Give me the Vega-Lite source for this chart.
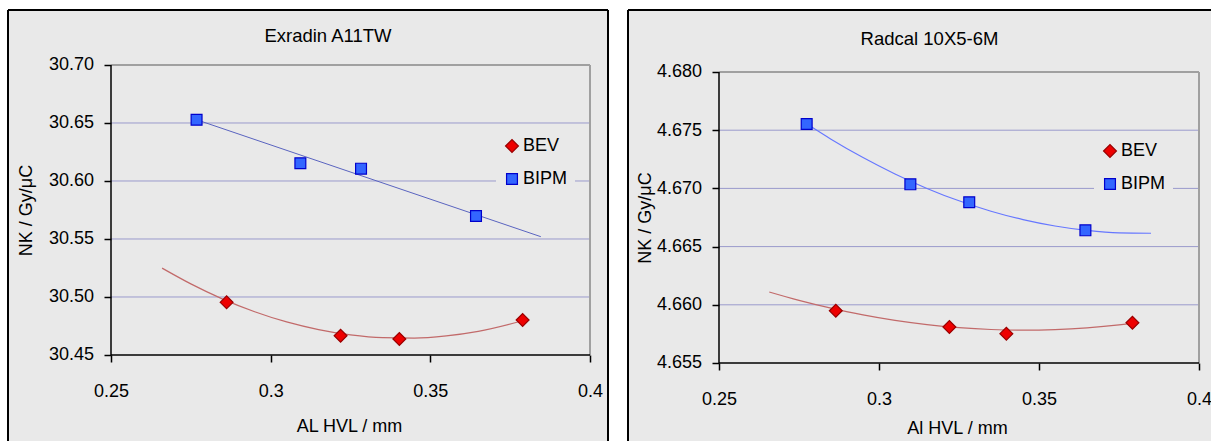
{
  "$schema": "https://vega.github.io/schema/vega-lite/v6.json",
  "autosize": {"type": "pad"},
  "padding": {"left": 7, "top": 9, "right": 0, "bottom": 0},
  "background": "#ffffff",
  "spacing": 20,
  "bounds": "flush",
  "resolve": {
    "scale": {"color": "independent", "shape": "independent", "stroke": "independent", "size": "independent", "x": "independent", "y": "independent"},
    "legend": {"color": "independent", "shape": "independent", "stroke": "independent"}
  },
  "config": {
    "view": {"fill": "#e9e9e9", "stroke": null},
    "font": "Liberation Sans",
    "axis": {
      "labelFont": "Liberation Sans", "labelFontSize": 18, "labelColor": "#000000",
      "titleFont": "Liberation Sans", "titleFontSize": 18, "titleFontWeight": "normal", "titleColor": "#000000",
      "tickColor": "#000000", "tickWidth": 1.5, "tickSize": 7,
      "domain": false, "grid": false, "labelFlush": false, "labelOverlap": false, "labelBound": false
    },
    "legend": {
      "orient": "none", "title": null, "fillColor": "#e9e9e9", "padding": 7,
      "labelFontSize": 18, "labelFont": "Liberation Sans", "labelColor": "#000000",
      "symbolSize": 130, "rowPadding": 15, "labelOffset": 2, "symbolStrokeWidth": 1.2
    }
  },
  "datasets": {
    "left_points": [
      {"series": "BIPM", "hvl": 0.2768, "nk": 30.6528},
      {"series": "BIPM", "hvl": 0.3093, "nk": 30.6153},
      {"series": "BIPM", "hvl": 0.3283, "nk": 30.6106},
      {"series": "BIPM", "hvl": 0.3643, "nk": 30.5698},
      {"series": "BEV", "hvl": 0.2862, "nk": 30.4954},
      {"series": "BEV", "hvl": 0.3219, "nk": 30.4666},
      {"series": "BEV", "hvl": 0.3403, "nk": 30.4638},
      {"series": "BEV", "hvl": 0.3789, "nk": 30.4802}
    ],
    "left_fit": [
      {"series": "BIPM", "hvl": 0.2768, "nk": 30.6528},
      {"series": "BIPM", "hvl": 0.3846, "nk": 30.5520},
      {"series": "BEV", "hvl": 0.266, "nk": 30.5249},
      {"series": "BEV", "hvl": 0.275, "nk": 30.5113},
      {"series": "BEV", "hvl": 0.285, "nk": 30.4982},
      {"series": "BEV", "hvl": 0.295, "nk": 30.4873},
      {"series": "BEV", "hvl": 0.305, "nk": 30.4785},
      {"series": "BEV", "hvl": 0.315, "nk": 30.4719},
      {"series": "BEV", "hvl": 0.325, "nk": 30.4673},
      {"series": "BEV", "hvl": 0.335, "nk": 30.4649},
      {"series": "BEV", "hvl": 0.345, "nk": 30.4646},
      {"series": "BEV", "hvl": 0.355, "nk": 30.4665},
      {"series": "BEV", "hvl": 0.365, "nk": 30.4704},
      {"series": "BEV", "hvl": 0.3789, "nk": 30.4795}
    ],
    "left_grid": [
      {"hvl": 0.25, "hvl2": 0.4, "nk": 30.5},
      {"hvl": 0.25, "hvl2": 0.4, "nk": 30.55},
      {"hvl": 0.25, "hvl2": 0.4, "nk": 30.6},
      {"hvl": 0.25, "hvl2": 0.4, "nk": 30.65}
    ],
    "left_axisline": [
      {"hvl": 0.25, "hvl2": 0.25, "nk": 30.45, "nk2": 30.7},
      {"hvl": 0.25, "hvl2": 0.4, "nk": 30.45, "nk2": 30.45}
    ],
    "left_box": [
      {"hvl": 0.25, "hvl2": 0.4, "nk": 30.7, "nk2": 30.7},
      {"hvl": 0.4, "hvl2": 0.4, "nk": 30.45, "nk2": 30.7}
    ],
    "left_border": [
      {"hvl": 0.217745, "hvl2": 0.217745, "nk": 30.375862, "nk2": 30.74741},
      {"hvl": 0.217745, "hvl2": 0.405637, "nk": 30.74741, "nk2": 30.74741},
      {"hvl": 0.405637, "hvl2": 0.405637, "nk": 30.375862, "nk2": 30.74741}
    ],
    "right_points": [
      {"series": "BIPM", "hvl": 0.2774, "nk": 4.67553},
      {"series": "BIPM", "hvl": 0.3098, "nk": 4.67035},
      {"series": "BIPM", "hvl": 0.3282, "nk": 4.66881},
      {"series": "BIPM", "hvl": 0.3645, "nk": 4.6664},
      {"series": "BEV", "hvl": 0.2865, "nk": 4.65949},
      {"series": "BEV", "hvl": 0.322, "nk": 4.65809},
      {"series": "BEV", "hvl": 0.3398, "nk": 4.65752},
      {"series": "BEV", "hvl": 0.3792, "nk": 4.65846}
    ],
    "right_fit": [
      {"series": "BIPM", "hvl": 0.2774, "nk": 4.67555},
      {"series": "BIPM", "hvl": 0.285, "nk": 4.67423},
      {"series": "BIPM", "hvl": 0.295, "nk": 4.67265},
      {"series": "BIPM", "hvl": 0.305, "nk": 4.67124},
      {"series": "BIPM", "hvl": 0.315, "nk": 4.67},
      {"series": "BIPM", "hvl": 0.325, "nk": 4.66893},
      {"series": "BIPM", "hvl": 0.335, "nk": 4.66804},
      {"series": "BIPM", "hvl": 0.345, "nk": 4.66732},
      {"series": "BIPM", "hvl": 0.355, "nk": 4.66677},
      {"series": "BIPM", "hvl": 0.365, "nk": 4.66639},
      {"series": "BIPM", "hvl": 0.375, "nk": 4.66618},
      {"series": "BIPM", "hvl": 0.385, "nk": 4.66615},
      {"series": "BEV", "hvl": 0.2657, "nk": 4.6611},
      {"series": "BEV", "hvl": 0.275, "nk": 4.66038},
      {"series": "BEV", "hvl": 0.285, "nk": 4.65971},
      {"series": "BEV", "hvl": 0.295, "nk": 4.65913},
      {"series": "BEV", "hvl": 0.305, "nk": 4.65866},
      {"series": "BEV", "hvl": 0.315, "nk": 4.6583},
      {"series": "BEV", "hvl": 0.325, "nk": 4.65804},
      {"series": "BEV", "hvl": 0.335, "nk": 4.65788},
      {"series": "BEV", "hvl": 0.345, "nk": 4.65782},
      {"series": "BEV", "hvl": 0.355, "nk": 4.65787},
      {"series": "BEV", "hvl": 0.365, "nk": 4.65802},
      {"series": "BEV", "hvl": 0.375, "nk": 4.65827},
      {"series": "BEV", "hvl": 0.3792, "nk": 4.65841}
    ],
    "right_grid": [
      {"hvl": 0.25, "hvl2": 0.4, "nk": 4.66},
      {"hvl": 0.25, "hvl2": 0.4, "nk": 4.665},
      {"hvl": 0.25, "hvl2": 0.4, "nk": 4.67},
      {"hvl": 0.25, "hvl2": 0.4, "nk": 4.675}
    ],
    "right_axisline": [
      {"hvl": 0.25, "hvl2": 0.25, "nk": 4.655, "nk2": 4.68},
      {"hvl": 0.25, "hvl2": 0.4, "nk": 4.655, "nk2": 4.655}
    ],
    "right_box": [
      {"hvl": 0.25, "hvl2": 0.4, "nk": 4.68, "nk2": 4.68},
      {"hvl": 0.4, "hvl2": 0.4, "nk": 4.655, "nk2": 4.68}
    ],
    "right_border": [
      {"hvl": 0.221563, "hvl2": 0.221563, "nk": 4.648299, "nk2": 4.685326},
      {"hvl": 0.221563, "hvl2": 0.40375, "nk": 4.685326, "nk2": 4.685326}
    ]
  },
  "hconcat": [
    {
      "width": 600,
      "height": 431,
      "title": {"text": "Exradin A11TW", "frame": "group", "anchor": "middle", "dx": 20, "offset": -51, "baseline": "alphabetic", "fontSize": 18.5, "fontWeight": "normal", "font": "Liberation Sans", "color": "#000000"},
      "encoding": {
        "x": {"field": "hvl", "type": "quantitative",
          "scale": {"domain": [0.217745, 0.405637], "nice": false, "zero": false},
          "axis": {"values": [0.25, 0.3, 0.35, 0.4], "format": "~g", "offset": -86, "labelPadding": 20,
            "title": "AL HVL / mm", "titleX": 341, "titleY": 76, "titleBaseline": "alphabetic", "titleAlign": "center"}},
        "y": {"field": "nk", "type": "quantitative",
          "scale": {"domain": [30.375862, 30.74741], "nice": false, "zero": false},
          "axis": {"values": [30.45, 30.5, 30.55, 30.6, 30.65, 30.7], "format": ".2f", "offset": -103, "labelPadding": 10.5,
            "title": "NK / Gy/μC", "titleX": -80, "titleY": 200, "titleBaseline": "alphabetic", "titleAngle": -90, "titleAlign": "center"}}
      },
      "layer": [
        {
          "data": {"name": "left_grid"},
          "mark": {"type": "rule", "color": "#9a9acc", "strokeWidth": 1},
          "encoding": {"x2": {"field": "hvl2"}}
        },
        {
          "data": {"name": "left_box"},
          "mark": {"type": "rule", "color": "#a0a0a0", "strokeWidth": 2},
          "encoding": {"x2": {"field": "hvl2"}, "y2": {"field": "nk2"}}
        },
        {
          "data": {"name": "left_axisline"},
          "mark": {"type": "rule", "color": "#000000", "strokeWidth": 1.5},
          "encoding": {"x2": {"field": "hvl2"}, "y2": {"field": "nk2"}}
        },
        {
          "data": {"name": "left_border"},
          "mark": {"type": "rule", "color": "#000000", "strokeWidth": 2},
          "encoding": {"x2": {"field": "hvl2"}, "y2": {"field": "nk2"}}
        },
        {
          "data": {"name": "left_fit"},
          "transform": [{"filter": "datum.series == 'BIPM'"}],
          "mark": {"type": "line", "color": "#5a64c0", "strokeWidth": 1},
          "encoding": {}
        },
        {
          "data": {"name": "left_fit"},
          "transform": [{"filter": "datum.series == 'BEV'"}],
          "mark": {"type": "line", "color": "#c26a6a", "strokeWidth": 1.2, "interpolate": "monotone"},
          "encoding": {}
        },
        {
          "data": {"name": "left_points"},
          "mark": {"type": "point", "filled": true, "strokeWidth": 1.2, "opacity": 1},
          "encoding": {
            "size": {"field": "series", "type": "nominal",
              "scale": {"domain": ["BEV", "BIPM"], "range": [165, 118]}, "legend": null},
            "color": {"field": "series", "type": "nominal",
              "scale": {"domain": ["BEV", "BIPM"], "range": ["#ee0000", "#3366ff"]},
              "legend": {"legendX": 488, "legendY": 120}},
            "shape": {"field": "series", "type": "nominal",
              "scale": {"domain": ["BEV", "BIPM"], "range": ["diamond", "square"]},
              "legend": {"legendX": 488, "legendY": 120}},
            "stroke": {"field": "series", "type": "nominal",
              "scale": {"domain": ["BEV", "BIPM"], "range": ["#990000", "#0000cc"]},
              "legend": {"legendX": 488, "legendY": 120}}
          }
        }
      ]
    },
    {
      "width": 583,
      "height": 431,
      "title": {"text": "Radcal 10X5-6M", "frame": "group", "anchor": "middle", "dx": 10, "offset": -54, "baseline": "alphabetic", "fontSize": 18.5, "fontWeight": "normal", "font": "Liberation Sans", "color": "#000000"},
      "encoding": {
        "x": {"field": "hvl", "type": "quantitative",
          "scale": {"domain": [0.221563, 0.40375], "nice": false, "zero": false},
          "axis": {"values": [0.25, 0.3, 0.35, 0.4], "format": "~g", "offset": -78, "labelPadding": 20,
            "title": "Al HVL / mm", "titleX": 329, "titleY": 70, "titleBaseline": "alphabetic", "titleAlign": "center"}},
        "y": {"field": "nk", "type": "quantitative",
          "scale": {"domain": [4.648299, 4.685326], "nice": false, "zero": false},
          "axis": {"values": [4.655, 4.66, 4.665, 4.67, 4.675, 4.68], "format": ".3f", "offset": -91, "labelPadding": 10.5,
            "title": "NK / Gy/μC", "titleX": -68.5, "titleY": 207.5, "titleBaseline": "alphabetic", "titleAngle": -90, "titleAlign": "center"}}
      },
      "layer": [
        {
          "data": {"name": "right_grid"},
          "mark": {"type": "rule", "color": "#9a9acc", "strokeWidth": 1},
          "encoding": {"x2": {"field": "hvl2"}}
        },
        {
          "data": {"name": "right_box"},
          "mark": {"type": "rule", "color": "#a0a0a0", "strokeWidth": 2},
          "encoding": {"x2": {"field": "hvl2"}, "y2": {"field": "nk2"}}
        },
        {
          "data": {"name": "right_axisline"},
          "mark": {"type": "rule", "color": "#000000", "strokeWidth": 1.5},
          "encoding": {"x2": {"field": "hvl2"}, "y2": {"field": "nk2"}}
        },
        {
          "data": {"name": "right_border"},
          "mark": {"type": "rule", "color": "#000000", "strokeWidth": 2},
          "encoding": {"x2": {"field": "hvl2"}, "y2": {"field": "nk2"}}
        },
        {
          "data": {"name": "right_fit"},
          "transform": [{"filter": "datum.series == 'BIPM'"}],
          "mark": {"type": "line", "color": "#6677ff", "strokeWidth": 1.1, "interpolate": "monotone"},
          "encoding": {}
        },
        {
          "data": {"name": "right_fit"},
          "transform": [{"filter": "datum.series == 'BEV'"}],
          "mark": {"type": "line", "color": "#c26a6a", "strokeWidth": 1.2, "interpolate": "monotone"},
          "encoding": {}
        },
        {
          "data": {"name": "right_points"},
          "mark": {"type": "point", "filled": true, "strokeWidth": 1.2, "opacity": 1},
          "encoding": {
            "size": {"field": "series", "type": "nominal",
              "scale": {"domain": ["BEV", "BIPM"], "range": [165, 118]}, "legend": null},
            "color": {"field": "series", "type": "nominal",
              "scale": {"domain": ["BEV", "BIPM"], "range": ["#ee0000", "#3366ff"]},
              "legend": {"legendX": 466, "legendY": 125}},
            "shape": {"field": "series", "type": "nominal",
              "scale": {"domain": ["BEV", "BIPM"], "range": ["diamond", "square"]},
              "legend": {"legendX": 466, "legendY": 125}},
            "stroke": {"field": "series", "type": "nominal",
              "scale": {"domain": ["BEV", "BIPM"], "range": ["#990000", "#0000cc"]},
              "legend": {"legendX": 466, "legendY": 125}}
          }
        }
      ]
    }
  ]
}
